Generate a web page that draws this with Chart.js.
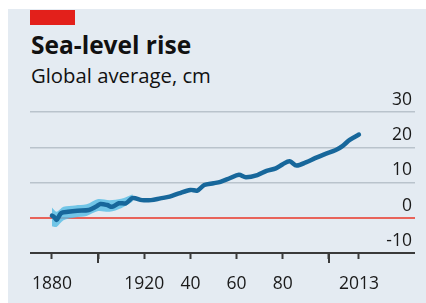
<!DOCTYPE html>
<html>
<head>
<meta charset="utf-8">
<script src="https://cdn.jsdelivr.net/npm/chart.js@4.4.1/dist/chart.umd.min.js"></script>
<style>
  html, body { margin: 0; padding: 0; background: #fff; }
  #wrap { position: relative; width: 426px; height: 303px; overflow: hidden; }
  #panel { position: absolute; left: 8px; top: 9px; right: 0; bottom: 0; background: #e4ebf2; }
  #tab { position: absolute; left: 30px; top: 10px; width: 45px; height: 15px; background: #e3201b; }
  .txt { position: absolute; left: 31px; font-family: "Open Sans", sans-serif; color: #111; line-height: 1; white-space: nowrap; }
  #title { top: 33px; font-size: 24.5px; font-weight: 700; }
  #subtitle { top: 65px; font-size: 20.3px; }
  #c { position: absolute; left: 0; top: 0; }
</style>
</head>
<body>
<div id="wrap">
  <div id="panel"></div>
  <div id="tab"></div>
  <div id="title" class="txt">Sea-level rise</div>
  <div id="subtitle" class="txt">Global average, cm</div>
  <canvas id="c" width="426" height="303"></canvas>
</div>
<script>
// sea level, cm
var years = [1880, 1881, 1882, 1884, 1887, 1891, 1896, 1899, 1901, 1904, 1906, 1909, 1912, 1915, 1919, 1923, 1927, 1931, 1935, 1940, 1943, 1946, 1950, 1953, 1957, 1961, 1964, 1969, 1973, 1977, 1980, 1983, 1986, 1990, 1994, 1998, 2003, 2006, 2009, 2013];
var level = [0.6, 0.2, -0.6, 1.3, 1.7, 2.0, 2.2, 3.1, 3.9, 3.6, 3.1, 4.1, 4.1, 5.6, 5.0, 5.0, 5.5, 6.0, 6.9, 7.9, 7.7, 9.3, 9.8, 10.2, 11.2, 12.2, 11.5, 12.1, 13.3, 14.0, 15.2, 16.0, 14.8, 15.7, 16.9, 18.0, 19.2, 20.4, 22.1, 23.6];

// uncertainty band, early years
var bandYears = [1880, 1882, 1885, 1890, 1895, 1900, 1905, 1910, 1915];
var bandLow = [-2.4, -2.6, -0.7, 0.1, 0.5, 1.9, 1.7, 2.7, 4.6];
var bandHigh = [2.9, 1.7, 3.1, 3.5, 3.8, 5.3, 5.0, 5.4, 6.7];

var xTicks = [1880, 1900, 1920, 1940, 1960, 1980, 2000, 2013];
var xTickLabels = ['1880', '', '1920', '40', '60', '80', '', '2013'];
var longTicks = [1900, 2000];
var yTicks = [-10, 0, 10, 20, 30];

function pts(xs, ys) {
    return xs.map(function(x, i) { return {x: x, y: ys[i]}; });
}

const longTickPlugin = {
    id: 'longTicks',
    afterDraw: function(chart) {
        const x = chart.scales.x;
        const ctx = chart.ctx;
        ctx.save();
        ctx.strokeStyle = '#3a3a3a';
        ctx.lineWidth = 2;
        longTicks.forEach(function(v) {
            const px = Math.round(x.getPixelForValue(v));
            ctx.beginPath();
            ctx.moveTo(px, chart.chartArea.bottom);
            ctx.lineTo(px, chart.chartArea.bottom + 10);
            ctx.stroke();
        });
        ctx.restore();
    }
};

const config_sealevel = {
    type: 'line',
    data: {
        datasets: [
        {
            data: pts(years, level),
            borderColor: '#17679b',
            borderWidth: 4.5,
            pointRadius: 0,
            fill: false,
            tension: 0.3,
            borderCapStyle: 'round',
            borderJoinStyle: 'round',
            order: 0
        },
        {
            data: pts(bandYears, bandLow),
            borderWidth: 0,
            pointRadius: 0,
            fill: false,
            tension: 0.3,
            order: 2
        },
        {
            data: pts(bandYears, bandHigh),
            borderWidth: 0,
            pointRadius: 0,
            backgroundColor: 'rgba(84, 188, 228, 0.8)',
            fill: '-1',
            tension: 0.3,
            order: 1
        }
        ]
    },
    options: {
        responsive: false,
        animation: false,
        layout: { padding: { left: 30, right: 11, top: 112, bottom: 0 } },
        plugins: { legend: { display: false }, tooltip: { enabled: false } },
        scales: {
            x: {
                type: 'linear',
                min: 1870.5,
                max: 2037.3,
                afterBuildTicks: function(scale) {
                    scale.ticks = xTicks.map(function(v) { return {value: v}; });
                },
                afterFit: function(scale) { scale.height = 50; },
                ticks: {
                    autoSkip: false,
                    maxRotation: 0,
                    padding: 15,
                    color: '#1a1a1a',
                    font: { family: 'Open Sans', size: 17.5 },
                    callback: function(v, i) { return xTickLabels[i]; }
                },
                grid: {
                    drawOnChartArea: false,
                    drawTicks: true,
                    tickLength: 6,
                    tickColor: '#3a3a3a',
                    tickWidth: 2
                },
                border: { display: false }
            },
            y: {
                position: 'right',
                min: -10,
                max: 30,
                afterBuildTicks: function(scale) {
                    scale.ticks = yTicks.map(function(v) { return {value: v}; });
                },
                ticks: {
                    mirror: true,
                    padding: -3,
                    labelOffset: -12,
                    color: '#1a1a1a',
                    font: { family: 'Open Sans', size: 17.5 }
                },
                grid: {
                    drawTicks: false,
                    color: function(c) {
                        if (c.tick.value === 0) return '#e8635a';
                        if (c.tick.value === -10) return '#3a3a3a';
                        return '#b9c3cc';
                    },
                    lineWidth: function(c) {
                        return (c.tick.value === 0 || c.tick.value === -10) ? 2 : 1.5;
                    }
                },
                border: { display: false }
            }
        }
    },
    plugins: [longTickPlugin]
};

const sealevel_chart = new Chart(document.getElementById('c'), config_sealevel);
</script>
</body>
</html>
